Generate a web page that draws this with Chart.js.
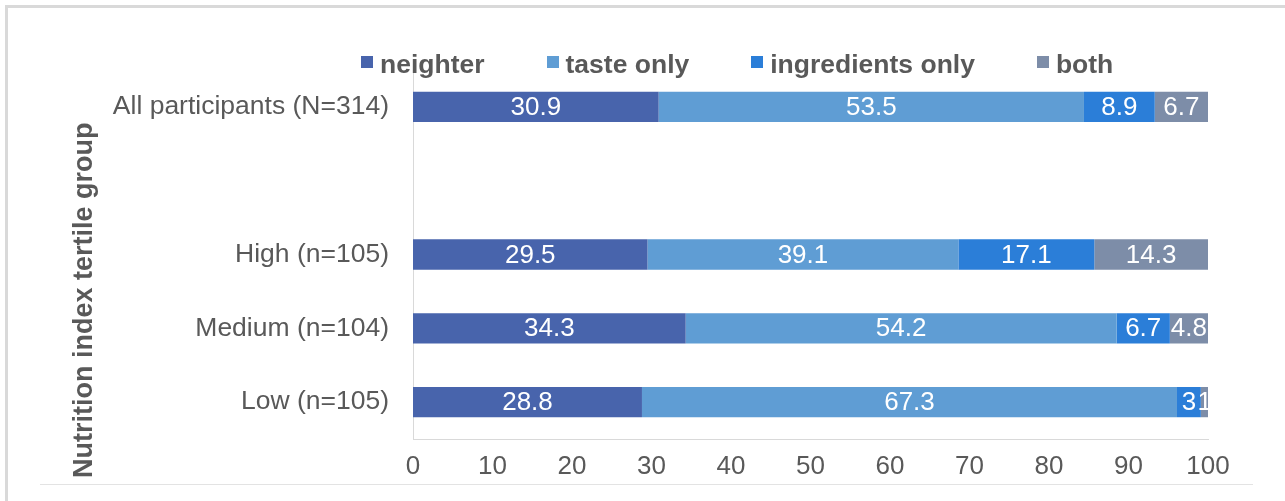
<!DOCTYPE html>
<html>
<head>
<meta charset="utf-8">
<script src="https://cdn.jsdelivr.net/npm/chart.js@4.4.1/dist/chart.umd.min.js"></script>
<style>
  html, body { margin: 0; padding: 0; background: #fff; }
  body { width: 1285px; height: 501px; position: relative; overflow: hidden; font-family: "Liberation Sans", Arial, sans-serif; }
  #frame { position: absolute; left: 5px; top: 5px; right: -10px; bottom: -10px; border-left: 3px solid #d9d9d9; border-top: 3px solid #d9d9d9; }
  #baseLine { position: absolute; left: 40px; top: 484px; width: 1213px; height: 1px; background: #e3e3e3; }
  #legend { position: absolute; left: 361px; top: 49px; display: flex; gap: 62px; }
  .item { display: flex; align-items: center; font-weight: bold; font-size: 26.5px; color: #595959; }
  .box { width: 12px; height: 12px; margin-right: 7px; margin-bottom: 5px; }
  #wrap { position: absolute; left: 0; top: 0; width: 1285px; height: 501px; }
</style>
</head>
<body>
<div id="frame"></div>
<div id="baseLine"></div>
<div id="wrap"><canvas id="chart" width="1285" height="501"></canvas></div>
<div id="legend"></div>
<script>
// カテゴリとシリーズ
const groups = ['All participants (N=314)', '', 'High (n=105)', 'Medium (n=104)', 'Low (n=105)'];
const neighter = [30.9, null, 29.5, 34.3, 28.8];
const tasteOnly = [53.5, null, 39.1, 54.2, 67.3];
const ingredientsOnly = [8.9, null, 17.1, 6.7, 3];
const both = [6.7, null, 14.3, 4.8, 1];
const seriesNames = ['neighter', 'taste only', 'ingredients only', 'both'];
const seriesColors = ['#4864ac', '#5f9dd4', '#2b7ed8', '#7d8da8'];
const axisTitle = 'Nutrition index tertile group';

const textGray = '#595959';
const font = '"Liberation Sans", Arial, sans-serif';

// 凡例（HTML）
const legend = document.getElementById('legend');
seriesNames.forEach((name, i) => {
    const el = document.createElement('div');
    el.className = 'item';
    el.innerHTML = '<span class="box" style="background:' + seriesColors[i] + '"></span>' + name;
    legend.appendChild(el);
});

// バー中央に値を描画
const valueLabels = {
    id: 'valueLabels',
    afterDatasetsDraw(chart) {
        const ctx = chart.ctx;
        ctx.save();
        ctx.fillStyle = '#ffffff';
        ctx.font = '26px ' + font;
        ctx.textAlign = 'center';
        ctx.textBaseline = 'middle';
        chart.data.datasets.forEach((ds, di) => {
            chart.getDatasetMeta(di).data.forEach((bar, i) => {
                const v = ds.data[i];
                if (v === null) return;
                const p = bar.getProps(['x', 'y', 'base'], true);
                ctx.fillText(String(v), (p.x + p.base) / 2, p.y + 1);
            });
        });
        ctx.restore();
    }
};

// 縦軸タイトル（プロット下端より下まで伸びるので自前で描く）
const yTitle = {
    id: 'yTitle',
    afterDraw(chart) {
        const ctx = chart.ctx;
        ctx.save();
        ctx.fillStyle = textGray;
        ctx.font = 'bold 27px ' + font;
        ctx.translate(85, chart.chartArea.bottom + 39);
        ctx.rotate(-Math.PI / 2);
        ctx.textAlign = 'left';
        ctx.textBaseline = 'middle';
        ctx.fillText(axisTitle, 0, 0);
        ctx.restore();
    }
};

const datasets = [neighter, tasteOnly, ingredientsOnly, both].map((d, i) => ({
    label: seriesNames[i],
    data: d,
    backgroundColor: seriesColors[i],
    borderWidth: 0,
    categoryPercentage: 1,
    barPercentage: 0.41
}));

new Chart(document.getElementById('chart'), {
    type: 'bar',
    data: { labels: groups, datasets: datasets },
    options: {
        indexAxis: 'y',
        responsive: false,
        animation: false,
        layout: { padding: { left: 62, top: 70, right: 77, bottom: 0 } },
        plugins: {
            legend: { display: false },
            tooltip: { enabled: false }
        },
        scales: {
            x: {
                stacked: true,
                min: 0,
                max: 100,
                ticks: { stepSize: 10, color: textGray, font: { family: font, size: 26 }, padding: 12 },
                grid: { display: false, drawTicks: false },
                border: { display: true, color: '#d9d9d9', width: 1 },
                afterFit(scale) { scale.height = 62; }
            },
            y: {
                stacked: true,
                ticks: { color: textGray, font: { family: font, size: 26.5 }, padding: 24 },
                grid: { display: false, drawTicks: false },
                border: { display: true, color: '#d9d9d9', width: 1 },
                afterFit(scale) { scale.width = 413 - 62; }
            }
        }
    },
    plugins: [valueLabels, yTitle]
});
</script>
</body>
</html>
